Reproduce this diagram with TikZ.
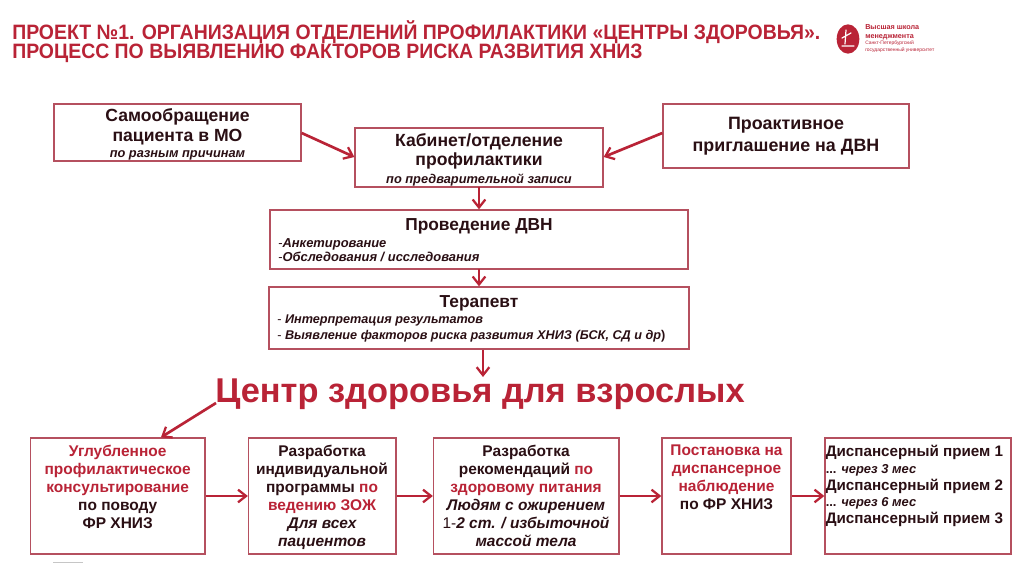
\documentclass[tikz,border=0pt]{standalone}
\usepackage{fontspec}
\setmainfont{Liberation Sans}
\newfontfamily\titlefont[FakeStretch=0.935]{Liberation Sans}
\usetikzlibrary{arrows.meta,calc,shapes.geometric}
\definecolor{brand}{HTML}{B92336}
\definecolor{boxline}{HTML}{B5505F}
\definecolor{ink}{HTML}{2A0F14}
\newcommand{\fs}[2]{\fontsize{#1}{#2}\selectfont}
\newcommand{\rd}[1]{\textcolor{brand}{#1}}
\tikzset{
  x=0.75pt,y=-0.75pt,
  box/.style={draw=boxline,line width=1pt,fill=white,inner sep=0pt},
  lbl/.style={inner sep=0pt,align=center,text=ink,font=\bfseries},
  lblleft/.style={inner sep=0pt,align=left,text=ink,font=\bfseries,anchor=north west},
  flow/.style={draw=brand,line width=2pt,-{Straight Barb[length=6pt,width=9.5pt,line width=1.7pt]}}
}
\newcommand{\boxat}[5]{\node[box,minimum width=#4*0.75pt-#2*0.75pt,minimum height=#5*0.75pt-#3*0.75pt] (#1) at ({(#2+#4)/2},{(#3+#5)/2}) {};}
\begin{document}
\begin{tikzpicture}
\useasboundingbox (0,0) rectangle (1024,574);
\fill[white] (0,0) rectangle (1024,574);
% title
\node[anchor=north west,inner sep=0pt,align=left,text=brand,font=\titlefont\bfseries\fs{15.6}{14.7}] (title) at (12,20) {ПРОЕКТ №1. ОРГАНИЗАЦИЯ ОТДЕЛЕНИЙ ПРОФИЛАКТИКИ «ЦЕНТРЫ ЗДОРОВЬЯ».\\ПРОЦЕСС ПО ВЫЯВЛЕНИЮ ФАКТОРОВ РИСКА РАЗВИТИЯ ХНИЗ};
% logo
\node[ellipse,fill=brand,minimum width=17pt,minimum height=22pt,inner sep=0pt] (logo) at (848,39) {};
\draw[white,line width=0.9pt,line cap=round] (846,30) -- (845,44) (851,33) -- (842,38) (842,46) -- (854,46);
\node[anchor=north west,inner sep=0pt,align=left,text=brand,font=\bfseries\fs{5.4}{6.6}] (logotext) at (865,24) {Высшая школа\\менеджмента};
\node[anchor=north west,inner sep=0pt,align=left,text=brand,font=\fs{3.7}{4.6}] (logosub) at (865,41) {Санкт-Петербургский\\государственный университет};
% boxes
\boxat{b1}{54}{104}{301}{161}
\boxat{b2}{355}{128}{603}{187}
\boxat{b3}{663}{104}{909}{168}
\boxat{b4}{270}{210}{688}{269}
\boxat{b5}{269}{287}{689}{349}
\boxat{c1}{30.5}{438}{205}{554}
\boxat{c2}{248.5}{438}{396}{554}
\boxat{c3}{433.5}{438}{619}{554}
\boxat{c4}{662}{438}{791}{554}
\boxat{c5}{825}{438}{1011}{554}
% texts upper
\node[lbl,anchor=north,font=\bfseries\fs{13.2}{15}] (t1) at (177.5,108) {Самообращение\\пациента в МО\\[-2.4pt]{\fs{9.6}{11}\itshape по разным причинам}};
\node[lbl,anchor=north,font=\bfseries\fs{13.2}{14.4}] (t2) at (479,133) {Кабинет/отделение\\профилактики\\[-1pt]{\fs{9.6}{11}\itshape по предварительной записи}};
\node[lbl,font=\bfseries\fs{13.4}{16.5}] (t3) at (786,136.5) {Проактивное\\приглашение на ДВН};
\node[lbl,anchor=north,font=\bfseries\fs{13}{15}] (t4) at (479,218) {Проведение ДВН};
\node[lblleft,font=\bfseries\itshape\fs{9.7}{11}] (t4a) at (278,238) {{\mdseries\upshape-}Анкетирование\\{\mdseries\upshape-}Обследования / исследования};
\node[lbl,anchor=north,font=\bfseries\fs{13}{15}] (t5) at (479,295) {Терапевт};
\node[lblleft,font=\bfseries\itshape\fs{9.5}{11.6}] (t5a) at (277,315) {{\mdseries\upshape-}\ Интерпретация результатов\\{\mdseries\upshape-}\ Выявление факторов риска развития ХНИЗ (БСК, СД и др{\upshape)}};
% centre heading
\node[anchor=base west,inner sep=0pt,text=brand,font=\bfseries\fs{25.8}{30}] (head) at (215,402) {Центр здоровья для взрослых};
% texts lower
\node[lbl,anchor=north,font=\bfseries\fs{11.6}{13.5}] (u1) at (117.7,445) {\rd{Углубленное}\\\rd{профилактическое}\\\rd{консультирование}\\по поводу\\ФР ХНИЗ};
\node[lbl,anchor=north,font=\bfseries\fs{11.6}{13.5}] (u2) at (322,445) {Разработка\\индивидуальной\\программы \rd{по}\\\rd{ведению ЗОЖ}\\{\itshape Для всех}\\{\itshape пациентов}};
\node[lbl,anchor=north,font=\bfseries\fs{11.6}{13.5}] (u3) at (526,445) {Разработка\\рекомендаций \rd{по}\\\rd{здоровому питания}\\{\itshape Людям с ожирением}\\{\mdseries 1-}{\itshape 2 ст. / избыточной}\\{\itshape массой тела}};
\node[lbl,anchor=north,font=\bfseries\fs{11.6}{13.5}] (u4) at (726.5,445) {\rd{Постановка на}\\\rd{диспансерное}\\\rd{наблюдение}\\по ФР ХНИЗ};
\node[lblleft,font=\bfseries\fs{11.4}{12.6}] (u5) at (825.5,445) {Диспансерный прием 1\\{\fs{9.7}{11}\itshape{\upshape...} через 3 мес}\\Диспансерный прием 2\\{\fs{9.7}{11}\itshape{\upshape...} через 6 мес}\\Диспансерный прием 3};
% small grey rule under first box
\draw[gray!45,line width=0.6pt] (53,562) -- (83,562);
% connectors
\coordinate (hs) at (216,403);
\draw[flow] (b1.east |- 0,133) -- (b2.west |- 0,157);
\draw[flow] (b3.west |- 0,133) -- (b2.east |- 0,157);
\draw[flow] (479,187) -- (b4.north -| 479,0);
\draw[flow] (479,269) -- (b5.north -| 479,0);
\draw[flow] (b5.south -| 483,0) -- (483,377);
\draw[flow] (hs) -- (c1.north -| 161,0);
\draw[flow] (c1.east |- 0,496) -- (c2.west |- 0,496);
\draw[flow] (c2.east |- 0,496) -- (c3.west |- 0,496);
\draw[flow] (c3.east |- 0,496) -- (c4.west |- 0,496);
\draw[flow] (c4.east |- 0,496) -- (c5.west |- 0,496);
\end{tikzpicture}
\end{document}
